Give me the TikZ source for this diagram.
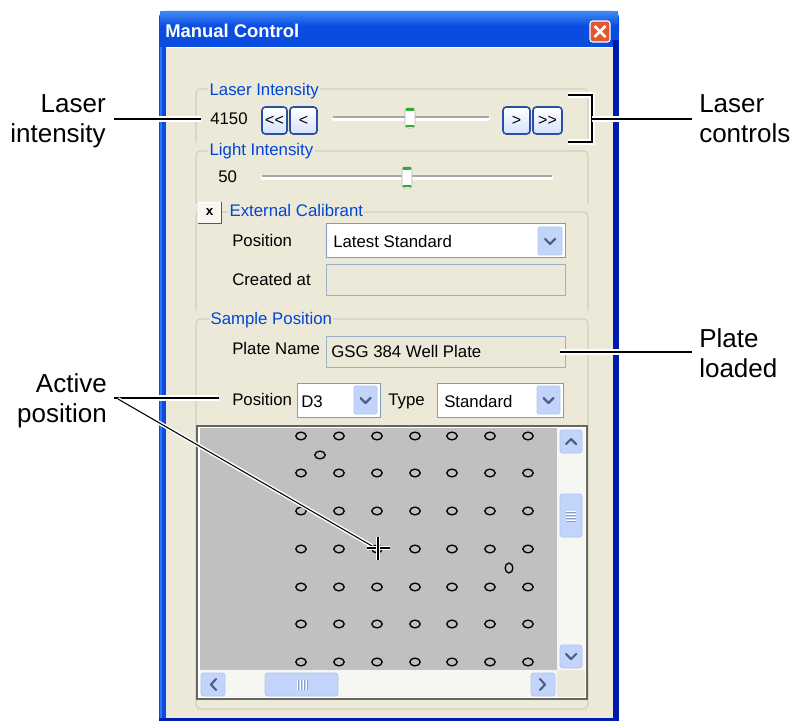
\documentclass[tikz,border=0pt]{standalone}
\usepackage{fontspec}
\setmainfont{Liberation Sans}
\definecolor{xpbg}{HTML}{ECE9D8}
\definecolor{xpblue}{HTML}{0A4CE0}
\definecolor{xpdark}{HTML}{001CB0}
\definecolor{xplight}{HTML}{3D86F5}
\definecolor{grpline}{HTML}{D0D0BF}
\definecolor{grptext}{HTML}{0046D5}
\definecolor{boxborder}{HTML}{7F9DB9}
\definecolor{ddbtn}{HTML}{C3D4FB}
\definecolor{ddbtnb}{HTML}{B0C6F4}
\definecolor{arrowc}{HTML}{4D6185}
\definecolor{gridgray}{HTML}{C0C0C0}
\definecolor{btnborder}{HTML}{2A4FA0}
\definecolor{trackc}{HTML}{F6F6F2}
\definecolor{closered}{HTML}{E0582F}
\definecolor{thumbgreen}{HTML}{2FAF2F}
\tikzset{
  ui/.style={font=\fontsize{12.6}{14}\selectfont, inner sep=0pt, anchor=base west},
  grplabel/.style={ui, text=grptext, fill=xpbg, inner xsep=1pt},
  callout/.style={font=\fontsize{19.5}{22.5}\selectfont, inner sep=0pt},
  lead/.style={draw=black, line width=1.5pt, preaction={draw=white, line width=4.5pt}},
  thinlead/.style={draw=black, line width=0.8pt, preaction={draw=white, line width=3pt}},
  grpframe/.style={draw=grpline, line width=0.8pt, rounded corners=3pt},
  navbtn/.style={draw=btnborder, line width=1.2pt, rounded corners=2.5pt, top color=white, bottom color=ddbtn!70},
  navtxt/.style={font=\fontsize{12}{12}\selectfont, inner sep=0pt},
  combo/.style={draw=boxborder, line width=0.75pt, fill=white},
  ddbutton/.style={fill=ddbtn, draw=ddbtnb, line width=0.6pt, rounded corners=1.5pt},
  chev/.style={draw=arrowc, line width=1.6pt, line cap=round, line join=round},
  well/.style={draw=black, line width=1pt},
  sbtn/.style={fill=ddbtn, draw=ddbtnb, line width=0.6pt, rounded corners=2pt},
}
\begin{document}
\begin{tikzpicture}[x=0.75pt,y=-0.75pt]
\useasboundingbox (0,0) rectangle (792,723);
\fill[white] (0,0) rectangle (792,723);
% ---- window frame ----
\fill[xpblue, rounded corners=5pt] (159,11) rectangle (619,40);
\fill[xpblue] (159,30) rectangle (619,721);
\shade[top color=xplight, bottom color=xpblue] (160,12) rectangle (618,26);
\fill[xpdark] (613,40) rectangle (619,721);
\fill[xpdark] (159,718) rectangle (619,721);
\fill[xplight!70!xpblue] (160,47) rectangle (162,718);
\fill[xpbg] (166,47) rectangle (613,718);
\draw[white, line width=0.6pt] (166,47.5) -- (613,47.5);
\node[font=\bfseries\fontsize{13.8}{15}\selectfont, text=white, inner sep=0pt, anchor=base west] (title) at (165,38) {Manual Control};
% close button
\draw[white, fill=closered, line width=0.8pt, rounded corners=2pt] (590,21) rectangle (610,42);
\coordinate (cx1) at (594.5,26); \coordinate (cx2) at (605.5,37);
\coordinate (cx3) at (605.5,26); \coordinate (cx4) at (594.5,37);
\draw[white, line width=2pt] (cx1) -- (cx2) (cx3) -- (cx4);
% ---- group frames ----
\foreach \t/\b in {89/200, 151/260, 212/330, 319/709} {
  \fill[xpbg] (194,\t-8) rectangle (591,\b+2);
  \draw[grpframe] (196,\t) rectangle (588,\b);
}
% ---- Laser intensity ----
\node[grplabel] (glaser) at (208,96) {Laser Intensity};
\node[ui] (v4150) at (210,125) {4150};
\draw[navbtn] (262,107) rectangle (287,134);
\node[navtxt] (bll) at (274.5,120.5) {<{}<};
\draw[navbtn] (290,107) rectangle (317,134);
\node[navtxt] (bl) at (303.5,120.5) {<};
\draw[navbtn] (503,107) rectangle (530,134);
\node[navtxt] (br) at (516.5,120.5) {>};
\draw[navbtn] (533,107) rectangle (562,134);
\node[navtxt] (brr) at (547.5,120.5) {>{}>};
% laser slider
\fill[white, rounded corners=1.5pt] (332,116) rectangle (490,121);
\draw[gray!70, line width=1pt] (333,117) -- (489,117);
\draw[gray!60, fill=white, rounded corners=2pt, line width=0.6pt] (405,108) rectangle (415,128);
\fill[thumbgreen] (406,108.5) rectangle (414,111);
\fill[thumbgreen] (406,125) rectangle (414,127.5);
% ---- Light intensity ----
\node[grplabel] (glight) at (208,156) {Light Intensity};
\node[ui] (v50) at (218,183) {50};
\fill[white, rounded corners=1.5pt] (261,175) rectangle (553,180);
\draw[gray!70, line width=1pt] (262,176) -- (552,176);
\draw[gray!60, fill=white, rounded corners=2pt, line width=0.6pt] (402,167) rectangle (412,188);
\fill[thumbgreen] (403,167.5) rectangle (411,170);
\fill[thumbgreen] (403,185) rectangle (411,187.5);
% ---- External calibrant ----
\fill[xpbg!40!white] (198,202) rectangle (221,223);
\draw[gray!70!black, line width=0.6pt] (198,223) -- (221,223) -- (221,202);
\draw[white, line width=0.6pt] (198,223) -- (198,202) -- (221,202);
\node[font=\bfseries\fontsize{10}{10}\selectfont, inner sep=0pt] (chk) at (209.5,211.5) {x};
\node[grplabel] (gext) at (228,217) {External Calibrant};
\node[ui] (lpos1) at (232,247) {Position};
\draw[combo] (326,224) rectangle (565,258);
\node[ui] (vlatest) at (333,248) {Latest Standard};
\draw[ddbutton] (538,227) rectangle (562,255);
\draw[chev] (545,239) -- (550,244) -- (555,239);
\node[ui] (lcreated) at (232,286) {Created at};
\draw[boxborder!80, line width=0.75pt] (326,265) rectangle (565,296);
% ---- Sample position ----
\node[grplabel] (gsample) at (209,325) {Sample Position};
\node[ui] (lplate) at (232,354) {Plate Name};
\draw[boxborder!80, line width=0.75pt] (326,337) rectangle (565,368);
\node[ui] (vplate) at (331,358) {GSG 384 Well Plate};
\node[ui] (lpos2) at (232,405) {Position};
\draw[combo] (297,383) rectangle (380,417);
\node[ui] (vd3) at (301,407) {D3};
\draw[ddbutton] (354,386) rectangle (377,414);
\draw[chev] (360.5,398) -- (365.5,403) -- (370.5,398);
\node[ui] (ltype) at (388,405) {Type};
\draw[combo] (437,383) rectangle (563,417);
\node[ui] (vstd) at (444,407) {Standard};
\draw[ddbutton] (537,386) rectangle (560,414);
\draw[chev] (543.5,398) -- (548.5,403) -- (553.5,398);
% ---- plate panel ----
\fill[white] (197,426) rectangle (587,699);
\draw[gray!80!black, line width=0.8pt] (197,426) rectangle (587,699);
\fill[gridgray] (200,428) rectangle (557,670);
\fill[trackc] (557,428) rectangle (585,670);
\fill[trackc] (200,670) rectangle (557,697);
\fill[xpbg] (557,670) rectangle (585,697);
% vertical scrollbar
\draw[sbtn] (560,430) rectangle (582,453);
\draw[chev] (566,444) -- (571,439) -- (576,444);
\draw[sbtn] (560,494) rectangle (582,537);
\foreach \gy in {511,514,517,520} { \draw[white, line width=0.6pt] (566,\gy) -- (576,\gy); \draw[ddbtnb!60!arrowc, line width=0.4pt] (566,\gy+1) -- (576,\gy+1); }
\draw[sbtn] (560,645) rectangle (582,668);
\draw[chev] (566,654) -- (571,659) -- (576,654);
% horizontal scrollbar
\draw[sbtn] (201,673) rectangle (225,696);
\draw[chev] (216,679) -- (211,684.5) -- (216,690);
\draw[sbtn] (265,673) rectangle (338,696);
\foreach \gx in {297,300,303,306} { \draw[white, line width=0.6pt] (\gx,680) -- (\gx,690); \draw[ddbtnb!60!arrowc, line width=0.4pt] (\gx+1,680) -- (\gx+1,690); }
\draw[sbtn] (531,673) rectangle (555,696);
\draw[chev] (540,679) -- (545,684.5) -- (540,690);
% wells
\foreach \wx in {301,339,377,415,452,490,528} {
  \foreach \wy in {436,473,511,549,587,624,662} {
    \draw[well] (\wx,\wy) ellipse [x radius=3.9pt, y radius=2.9pt];
  }
}
\draw[well] (320,455) ellipse [x radius=3.9pt, y radius=2.9pt];
\draw[well] (509,568) ellipse [x radius=2.9pt, y radius=3.7pt];
% ---- callouts ----
\node[callout, align=right, anchor=east] (tLI) at (106,121) {Laser\\intensity};
\node[callout, align=right, anchor=east] (tAP) at (107,401) {Active\\position};
\node[callout, align=left, anchor=west] (tLC) at (699,119) {Laser\\controls};
\node[callout, align=left, anchor=west] (tPL) at (699,353) {Plate\\loaded};
\coordinate (liA) at (114,119); \coordinate (liB) at (201,119);
\draw[lead] (liA) -- (liB);
\coordinate (apA) at (114,398); \coordinate (apB) at (219,398);
\draw[lead] (apA) -- (apB);
\coordinate (apC) at (118,399); \coordinate (apD) at (372,546);
\draw[thinlead] (apC) -- (apD);
% crosshair
\coordinate (chL) at (367,548); \coordinate (chR) at (390,548);
\coordinate (chT) at (378,537); \coordinate (chB) at (378,560);
\draw[thinlead] (chL) -- (chR);
\draw[thinlead] (chT) -- (chB);
% laser controls bracket
\coordinate (bk1) at (568,95); \coordinate (bk2) at (592,95);
\coordinate (bk3) at (592,142); \coordinate (bk4) at (568,142);
\coordinate (bkM) at (592,119); \coordinate (lcB) at (692,119);
\draw[lead, line join=miter] (bk1) -- (bk2) -- (bk3) -- (bk4);
\draw[lead] (bkM) -- (lcB);
\coordinate (plA) at (560,352); \coordinate (plB) at (692,352);
\draw[lead] (plA) -- (plB);
\end{tikzpicture}
\end{document}
